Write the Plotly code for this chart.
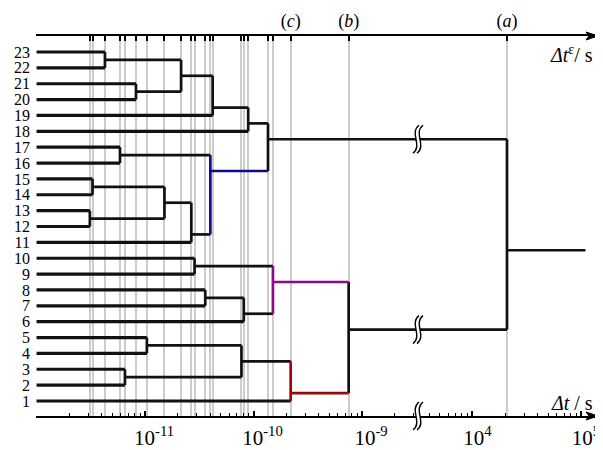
import plotly.graph_objects as go

# ---------------- data ----------------
leaf_labels = [str(i) for i in range(1, 24)]
leaf_rows = list(range(1, 24))
leaf_start = 1e-12

# internal nodes (ids 24..45), children ids (1..23 are leaves)
node_left = [13, 15, 23, 17, 3, 21, 5, 25, 26, 31, 10, 8, 27, 32, 30, 35, 37, 40, 34, 38, 42, 41]
node_right = [12, 14, 22, 16, 2, 20, 4, 24, 29, 11, 9, 7, 33, 19, 28, 6, 18, 36, 39, 1, 43, 44]
node_height = [3.10e-12, 3.28e-12, 4.27e-12, 5.88e-12, 6.53e-12, 8.25e-12, 1.04e-11,
               1.51e-11, 2.15e-11, 2.67e-11, 2.86e-11, 3.59e-11, 4.0e-11, 4.2e-11,
               7.74e-11, 8.13e-11, 8.93e-11, 1.36e-10, 1.51e-10, 2.2e-10, 7.53e-10, 2.08e4]
node_row = [12.5, 14.5, 22.5, 16.5, 2.5, 20.5, 4.5, 13.5, 21.5, 11.5, 9.5, 7.5, 15.5,
            19.5, 3.5, 6.5, 18.5, 17.5, 8.5, 1.5, 5.5, 10.5]
node_group = ["k"] * 22
node_group[12] = "blue"
node_group[18] = "purple"
node_group[19] = "red"
root_stub_end = 1.1e5

labelled_nodes = {19: "(<i>c</i>)", 20: "(<i>b</i>)", 21: "(<i>a</i>)"}

left_major = [1e-11, 1e-10, 1e-9]
left_major_text = ["10<sup>-11</sup>", "10<sup>-10</sup>", "10<sup>-9</sup>"]
left_minor = [1e-12] + [m * d for d in (1e-12, 1e-11, 1e-10) for m in range(2, 10)] + [2e-9, 3e-9]
right_major = [1e4, 1e5]
right_major_text = ["10<sup>4</sup>", "10<sup>5</sup>"]
right_minor = [m * 1e3 for m in range(4, 10)] + [m * 1e4 for m in range(2, 10)]

# ---------------- styles ----------------
COLORS = {"k": "#111111", "blue": "#0c0c8c", "purple": "#8c0a8c", "red": "#980808"}
FONT = "Liberation Serif, Times New Roman, DejaVu Serif, serif"
LEFT_RANGE = [-12.005, -8.484]
RIGHT_RANGE = [3.498, 5.129]
LMAX = 10 ** LEFT_RANGE[1]
RMIN = 10 ** RIGHT_RANGE[0]
SPLIT = 382 / 559
GRID = "#cccccc"

groups = {}


def add(axis, color, width, xs, ys):
    g = groups.setdefault((axis, color, width), ([], []))
    g[0].extend(xs + [None])
    g[1].extend(ys + [None])


def add_h(x0, x1, y, color, width):
    if x1 <= LMAX:
        add("x", color, width, [x0, x1], [y, y])
    elif x0 >= RMIN:
        add("x2", color, width, [x0, x1], [y, y])
    else:
        add("x", color, width, [x0, LMAX], [y, y])
        add("x2", color, width, [RMIN, x1], [y, y])


def add_v(x, y0, y1, color, width):
    add("x" if x <= LMAX else "x2", color, width, [x, x], [y0, y1])


def info(c):
    if c <= 23:
        return leaf_start, leaf_rows[c - 1], "k", 3.2
    i = c - 24
    return node_height[i], node_row[i], node_group[i], 2.7


for i in range(len(node_height)):
    h = node_height[i]
    rows = []
    for c in (node_left[i], node_right[i]):
        ch, cr, cc, w = info(c)
        add_h(ch, h, cr, cc, w)
        rows.append(cr)
    add_v(h, rows[0], rows[1], node_group[i], 2.7)

root = len(node_height) - 1
add_h(node_height[root], root_stub_end, node_row[root], "k", 2.5)

fig = go.Figure()
for (axis, color, width), (xs, ys) in groups.items():
    fig.add_trace(go.Scatter(x=xs, y=ys, mode="lines", xaxis=axis, yaxis="y",
                             line=dict(color=COLORS[color], width=width),
                             hoverinfo="skip", showlegend=False))

# merge levels shown on the top axis
left_levels = [h for h in node_height if h <= LMAX]
right_levels = [h for h in node_height if h > LMAX]
lab_left = [node_height[i] for i in labelled_nodes if node_height[i] <= LMAX]
lab_left_text = [labelled_nodes[i] for i in labelled_nodes if node_height[i] <= LMAX]
lab_right = [node_height[i] for i in labelled_nodes if node_height[i] > LMAX]
lab_right_text = [labelled_nodes[i] for i in labelled_nodes if node_height[i] > LMAX]

fig.add_trace(go.Scatter(x=left_levels, y=[None] * len(left_levels), xaxis="x3", yaxis="y",
                         mode="markers", showlegend=False, hoverinfo="skip"))
fig.add_trace(go.Scatter(x=right_levels, y=[None] * len(right_levels), xaxis="x4", yaxis="y",
                         mode="markers", showlegend=False, hoverinfo="skip"))

axis_common = dict(type="log", showline=True, linecolor="black", linewidth=2,
                   ticks="inside", tickcolor="black", tickwidth=1.5, zeroline=False,
                   automargin=False)

# the page body has an 8px margin, so the figure is sized to fit the 603x450 window
fig.update_layout(
    width=595, height=442,
    margin=dict(l=28, r=8, t=28, b=34),
    plot_bgcolor="white", paper_bgcolor="white", showlegend=False,
    font=dict(family=FONT, color="black"),
    xaxis=dict(**axis_common, domain=[0, SPLIT], range=LEFT_RANGE, anchor="y",
               tickvals=left_major, ticktext=left_major_text, ticklen=5,
               tickfont=dict(size=21, family=FONT), ticklabelshift=9,
               ticklabelstandoff=2, showgrid=False,
               minor=dict(tickvals=left_minor, ticks="inside", ticklen=3,
                          tickwidth=1.2, tickcolor="black", showgrid=False)),
    xaxis2=dict(**axis_common, domain=[SPLIT, 1], range=RIGHT_RANGE, anchor="y",
                tickvals=right_major, ticktext=right_major_text, ticklen=5,
                tickfont=dict(size=21, family=FONT), ticklabelshift=5,
                ticklabelstandoff=2, showgrid=False,
                minor=dict(tickvals=right_minor, ticks="inside", ticklen=3,
                           tickwidth=1.2, tickcolor="black", showgrid=False)),
    xaxis3=dict(**axis_common, overlaying="x", side="top", range=LEFT_RANGE, anchor="y",
                tickvals=lab_left, ticktext=lab_left_text, ticklen=5,
                tickfont=dict(size=18, family=FONT), ticklabelstandoff=0,
                showgrid=True, gridcolor=GRID, gridwidth=2,
                minor=dict(tickvals=left_levels, ticks="inside", ticklen=5, tickwidth=1.5,
                           tickcolor="black", showgrid=True, gridcolor=GRID, gridwidth=2)),
    xaxis4=dict(**axis_common, overlaying="x2", side="top", range=RIGHT_RANGE, anchor="y",
                tickvals=lab_right, ticktext=lab_right_text, ticklen=5,
                tickfont=dict(size=18, family=FONT), ticklabelstandoff=0,
                showgrid=True, gridcolor=GRID, gridwidth=2),
    yaxis=dict(range=[0.054, 24.009], tickvals=leaf_rows, ticktext=leaf_labels,
               showline=False, showgrid=False, zeroline=False, ticks="", automargin=False,
               tickfont=dict(size=16, family=FONT), ticklabelstandoff=5),
)

# axis titles
fig.add_annotation(xref="paper", yref="paper", x=1, y=1, xanchor="right", yanchor="top",
                   yshift=-4, showarrow=False, text="<i>Δt</i><sup>ε</sup>/ s",
                   font=dict(size=20, family=FONT))
fig.add_annotation(xref="paper", yref="paper", x=1, y=0, xanchor="right", yanchor="bottom",
                   yshift=0, showarrow=False, text="<i>Δt</i> / s",
                   font=dict(size=20, family=FONT))

# arrow heads on both axes
for yy in (0, 1):
    fig.add_shape(type="path", xref="paper", yref="paper", xsizemode="pixel",
                  ysizemode="pixel", xanchor=1, yanchor=yy,
                  path="M -9,-4 L 3,0 L -9,4 L -6,0 Z", fillcolor="black",
                  line=dict(color="black", width=1))


# axis-break marks
def squiggle(dx):
    return f"M {dx - 3},-14 C {dx + 7},-6 {dx - 7},6 {dx + 3},14"


fill_path = "M -5,-14 C 5,-6 -9,6 1,14 L 5,14 C -5,6 9,-6 -1,-14 Z"
stroke_path = squiggle(-2) + " " + squiggle(2)
breaks = [("y", node_row[17]), ("y", node_row[20]), ("paper", 0)]
for yref, yv in breaks:
    fig.add_shape(type="path", xref="paper", yref=yref, xsizemode="pixel", ysizemode="pixel",
                  xanchor=SPLIT, yanchor=yv, path=fill_path, fillcolor="white",
                  line=dict(width=0))
    fig.add_shape(type="path", xref="paper", yref=yref, xsizemode="pixel", ysizemode="pixel",
                  xanchor=SPLIT, yanchor=yv, path=stroke_path,
                  line=dict(color="black", width=1.4))

fig.write_html("out.html")
